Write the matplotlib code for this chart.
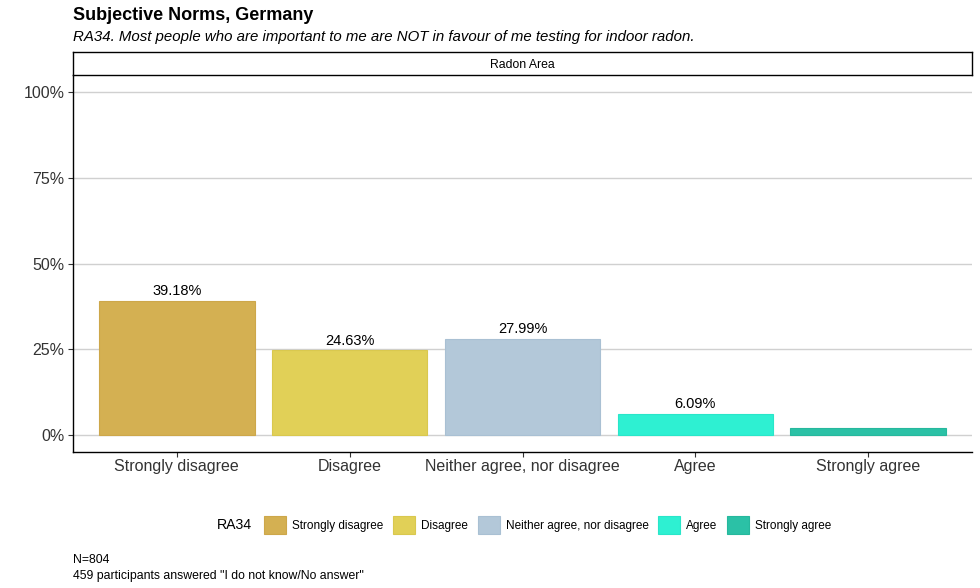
import matplotlib
matplotlib.use("Agg")
import matplotlib.pyplot as plt
from matplotlib.patches import Patch
from matplotlib.offsetbox import HPacker

plt.rcParams['font.family'] = ['Liberation Sans', 'DejaVu Sans']

categories = ["Strongly disagree", "Disagree", "Neither agree, nor disagree", "Agree", "Strongly agree"]
values = [39.18, 24.63, 27.99, 6.09, 2.11]
labels = ["39.18%", "24.63%", "27.99%", "6.09%", ""]
colors = ["#D4B052", "#E1D057", "#B3C8D9", "#2EF0D2", "#2BC1A6"]
edges = ["#CDA74A", "#D9C84E", "#A9C0D3", "#29E6C9", "#26B89D"]
yticks = [0, 25, 50, 75, 100]
ytick_labels = ["0%", "25%", "50%", "75%", "100%"]

W, H = 980, 588
fig = plt.figure(figsize=(9.8, 5.88), dpi=100)
ax = fig.add_axes([73/W, 1-452/H, (972-73)/W, (452-75)/H])

x = list(range(1, len(categories)+1))
ax.bar(x, [v/100 for v in values], width=0.9, color=colors, edgecolor=edges, linewidth=0.8, zorder=2)
for xi, v, lab in zip(x, values, labels):
    if lab:
        ax.text(xi, v/100 + 0.008, lab, ha='center', va='bottom', fontsize=10.5, color='black', zorder=3)

ax.set_xlim(0.4, 5.6)
ax.set_ylim(-0.05, 1.05)
ax.set_yticks([t/100 for t in yticks])
ax.set_yticklabels(ytick_labels, fontsize=11.5, color='#333333')
ax.set_xticks(x)
ax.set_xticklabels(categories, fontsize=11.5, color='#333333')
ax.grid(axis='y', color='#D0D0D0', linewidth=1.0, zorder=0)
ax.set_axisbelow(True)
for s in ['top', 'right']:
    ax.spines[s].set_visible(False)
for s in ['left', 'bottom']:
    ax.spines[s].set_color('black')
    ax.spines[s].set_linewidth(1.0)
ax.tick_params(axis='both', length=3.5, width=0.8, color='#333333', pad=2.5)
ax.tick_params(axis='x', pad=1.5)

# facet strip
strip = fig.add_axes([73/W, 1-75/H, (972-73)/W, (75-52)/H])
strip.set_xticks([]); strip.set_yticks([])
for s in strip.spines.values():
    s.set_linewidth(1.0); s.set_color('black')
strip.text(0.5, 0.42, "Radon Area", ha='center', va='center', fontsize=8.8, transform=strip.transAxes)

fig.text(73/W, 1-15/H, "Subjective Norms, Germany", fontsize=13, fontweight='bold', va='center', ha='left')
fig.text(73/W, 1-37/H, "RA34. Most people who are important to me are NOT in favour of me testing for indoor radon.",
         fontsize=10.8, style='italic', va='center', ha='left')

handles = [Patch(facecolor=c, edgecolor=e, linewidth=0.8) for c, e in zip(colors, edges)]
leg = fig.legend(handles, categories, loc='center', bbox_to_anchor=(524/W, 1-525/H), ncol=5,
                 frameon=False, fontsize=8.5, title="RA34", title_fontsize=10.2,
                 handlelength=1.85, handleheight=1.85, handletextpad=0.5, columnspacing=0.85,
                 borderpad=0)
title_box = leg._legend_title_box
handle_box = leg._legend_handle_box
leg._legend_box._children = [HPacker(pad=0, sep=9, children=[title_box, handle_box], align='center')]

fig.text(73/W, 1-560/H, "N=804", fontsize=8.8, va='center', ha='left')
fig.text(73/W, 1-576/H, "459 participants answered \"I do not know/No answer\"", fontsize=8.8, va='center', ha='left')

fig.savefig("out.png", dpi=100)
